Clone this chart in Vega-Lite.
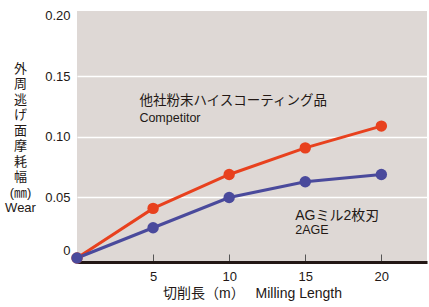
{
  "$schema": "https://vega.github.io/schema/vega-lite/v6.json",
  "width": 350,
  "height": 251,
  "autosize": {"type": "none"},
  "padding": {"left": 77, "top": 11, "right": 2, "bottom": 45},
  "background": "white",
  "config": {
    "view": {"fill": "#DED8D5", "stroke": null},
    "font": "Liberation Sans, Noto Sans CJK JP",
    "axis": {"labelColor": "#231815", "titleColor": "#231815", "labelFont": "Liberation Sans", "titleFont": "Liberation Sans, Noto Sans CJK JP", "titleFontWeight": "normal"}
  },
  "data": {
    "values": [
      {"series": "Competitor", "x": 0, "y": 0},
      {"series": "Competitor", "x": 5, "y": 0.041},
      {"series": "Competitor", "x": 10, "y": 0.069},
      {"series": "Competitor", "x": 15, "y": 0.091},
      {"series": "Competitor", "x": 20, "y": 0.109},
      {"series": "2AGE", "x": 0, "y": 0},
      {"series": "2AGE", "x": 5, "y": 0.025},
      {"series": "2AGE", "x": 10, "y": 0.050},
      {"series": "2AGE", "x": 15, "y": 0.063},
      {"series": "2AGE", "x": 20, "y": 0.069}
    ]
  },
  "encoding": {
    "x": {
      "field": "x", "type": "quantitative",
      "scale": {"domain": [0, 23], "nice": false, "zero": false},
      "axis": {
        "values": [5, 10, 15, 20],
        "grid": false,
        "domainColor": "#231815", "domainWidth": 3,
        "tickColor": "#555555", "tickSize": -8, "tickWidth": 1,
        "labelFontSize": 13, "labelPadding": 16,
        "title": "切削長（m）　 Milling Length",
        "titleFontSize": 14, "titlePadding": 3
      }
    },
    "y": {
      "field": "y", "type": "quantitative",
      "scale": {"domain": [-0.0033, 0.2041], "nice": false, "zero": false},
      "axis": {
        "values": [0, 0.05, 0.1, 0.15, 0.2],
        "labelExpr": "datum.value == 0 ? '0' : format(datum.value, '.2f')",
        "labelOffset": {"condition": {"test": "datum.value == 0", "value": -8}, "value": 0},
        "domain": false, "ticks": false,
        "grid": true, "gridWidth": 1.5,
        "gridColor": {"condition": {"test": "datum.value == 0 || datum.value == 0.2", "value": "transparent"}, "value": "white"},
        "labelFontSize": 13, "labelPadding": 7,
        "title": ["外", "周", "逃", "げ", "面", "摩", "耗", "幅", "(㎜)", "Wear"],
        "titleAngle": 0, "titleAlign": "center", "titleBaseline": "top",
        "titleX": -57, "titleY": 51, "titleFontSize": 13, "titleLineHeight": 15.5
      }
    },
    "color": {
      "field": "series", "type": "nominal",
      "scale": {"domain": ["Competitor", "2AGE"], "range": ["#E8411E", "#4A4A9C"]},
      "legend": null
    }
  },
  "layer": [
    {"mark": {"type": "line", "strokeWidth": 3}},
    {"mark": {"type": "point", "filled": true, "opacity": 1, "size": 130}},
    {
      "data": {"values": [
        {"x": 4.1, "y": 0.1298, "t": "他社粉末ハイスコーティング品", "s": 13.5},
        {"x": 4.1, "y": 0.1158, "t": "Competitor", "s": 12.5},
        {"x": 14.34, "y": 0.0345, "t": "AGミル2枚刃", "s": 14},
        {"x": 14.34, "y": 0.0235, "t": "2AGE", "s": 12.5}
      ]},
      "mark": {"type": "text", "align": "left", "baseline": "middle", "color": "#231815"},
      "encoding": {
        "x": {"field": "x", "type": "quantitative"},
        "y": {"field": "y", "type": "quantitative"},
        "text": {"field": "t"},
        "size": {"field": "s", "type": "quantitative", "scale": null},
        "color": {"value": "#231815"}
      }
    }
  ]
}
